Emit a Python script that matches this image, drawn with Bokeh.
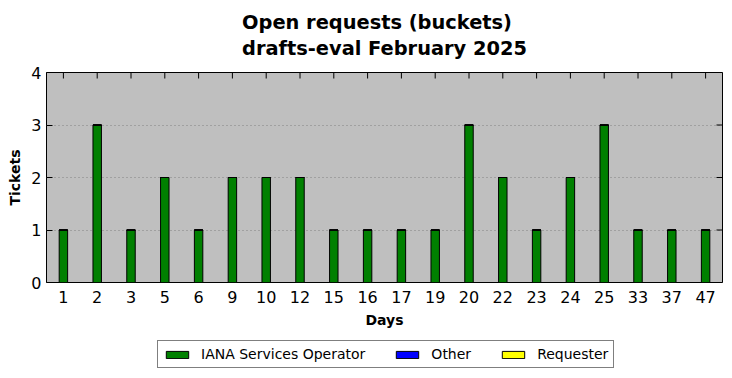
from bokeh.plotting import figure
from bokeh.models import ColumnDataSource, FactorRange, Range1d, Legend, LegendItem, FixedTicker
from bokeh.layouts import column
from bokeh.transform import dodge
from bokeh.embed import file_html
from bokeh.resources import INLINE
import math

days = ["1", "2", "3", "5", "6", "9", "10", "12", "15", "16", "17", "19", "20", "22", "23", "24", "25", "33", "37", "47"]
iana = [1, 3, 1, 2, 1, 2, 2, 2, 1, 1, 1, 1, 3, 2, 1, 2, 3, 1, 1, 1]
other = [0] * len(days)
requester = [0] * len(days)
series_names = ["IANA Services Operator", "Other", "Requester"]
series_colors = ["green", "blue", "yellow"]
title_lines = ["Open requests (buckets)", "drafts-eval February 2025"]
y_ticks = [0, 1, 2, 3, 4]

FONT = "DejaVu Sans"

p = figure(width=732, height=334, x_range=FactorRange(*days), y_range=Range1d(0, 4),
           output_backend="svg", toolbar_location=None,
           title="\n".join(title_lines),
           min_border_left=46, min_border_right=10, min_border_top=70, min_border_bottom=52)

p.title.align = "center"
p.title.vertical_align = "top"
p.title.text_font = FONT
p.title.text_font_size = "19.4px"
p.title.text_font_style = "bold"
p.title.text_color = "black"
p.title.text_line_height = 1.134
p.title.standoff = 21

p.background_fill_color = "#bfbfbf"
p.border_fill_color = "white"
p.outline_line_color = "black"
p.outline_line_width = 1

b1 = [0] * len(days)
t1 = iana
b2 = t1
t2 = [a + b for a, b in zip(t1, other)]
b3 = t2
t3 = [a + b for a, b in zip(t2, requester)]
src = ColumnDataSource(dict(x=days, b1=b1, t1=t1, b2=b2, t2=t2, b3=b3, t3=t3))
for i, col in enumerate(series_colors):
    p.vbar(x="x", bottom="b%d" % (i + 1), top="t%d" % (i + 1), width=0.25, source=src,
           fill_color=col, line_color="black", line_width=1)

# mirrored inward ticks on top and right edges
tick_src = ColumnDataSource(dict(x=days, y=[y_ticks[-1]] * len(days)))
p.scatter(x="x", y="y", source=tick_src, marker="dash", size=12, angle=math.pi / 2,
          line_color="black", line_width=1)
rt_src = ColumnDataSource(dict(x=[days[-1]] * len(y_ticks), y=y_ticks))
p.scatter(x=dodge("x", 0.5, range=p.x_range), y="y", source=rt_src, marker="dash", size=12,
          line_color="black", line_width=1)

p.xgrid.visible = False
p.ygrid.ticker = FixedTicker(ticks=y_ticks[1:-1])
p.ygrid.grid_line_color = "#808080"
p.ygrid.grid_line_dash = "1 3"
p.ygrid.grid_line_width = 1

p.yaxis.ticker = FixedTicker(ticks=y_ticks)
for ax in (p.xaxis[0], p.yaxis[0]):
    ax.major_label_text_font = FONT
    ax.major_label_text_font_size = "16px"
    ax.major_label_text_color = "black"
    ax.axis_label_text_font = FONT
    ax.axis_label_text_font_size = "14px"
    ax.axis_label_text_font_style = "bold"
    ax.axis_label_text_color = "black"
    ax.axis_line_color = None
    ax.major_tick_in = 6
    ax.major_tick_out = 0
    ax.minor_tick_line_color = None
    ax.major_tick_line_color = "black"
p.xaxis.major_tick_line_color = None
p.xaxis.axis_label = "Days"
p.yaxis.axis_label = "Tickets"
p.xaxis.major_label_standoff = 8
p.xaxis.axis_label_standoff = 6

# legend strip below the chart (series drawn again outside its visible range)
q = figure(width=732, height=44, x_range=p.x_range, y_range=Range1d(100, 101),
           output_backend="svg", toolbar_location=None,
           min_border_left=0, min_border_right=0, min_border_top=0, min_border_bottom=0)
q.axis.visible = False
q.grid.visible = False
q.outline_line_color = None
q.background_fill_color = "white"
q.border_fill_color = "white"
rs = []
for i, col in enumerate(series_colors):
    r = q.vbar(x="x", bottom="b%d" % (i + 1), top="t%d" % (i + 1), width=0.25, source=src,
               fill_color=col, line_color="black", line_width=1)
    rs.append(r)

legend = Legend(items=[LegendItem(label=n, renderers=[r]) for n, r in zip(series_names, rs)],
                orientation="horizontal", location=(111, 10),
                glyph_width=28, glyph_height=9, label_standoff=10, spacing=28,
                label_text_font=FONT, label_text_font_size="14px", label_text_color="black",
                border_line_color="black", border_line_width=1, background_fill_color="white",
                padding=5, margin=0, label_height=15)
q.add_layout(legend, "center")

layout = column(p, q, spacing=0)
open("out.html", "w").write(file_html(layout, INLINE))
